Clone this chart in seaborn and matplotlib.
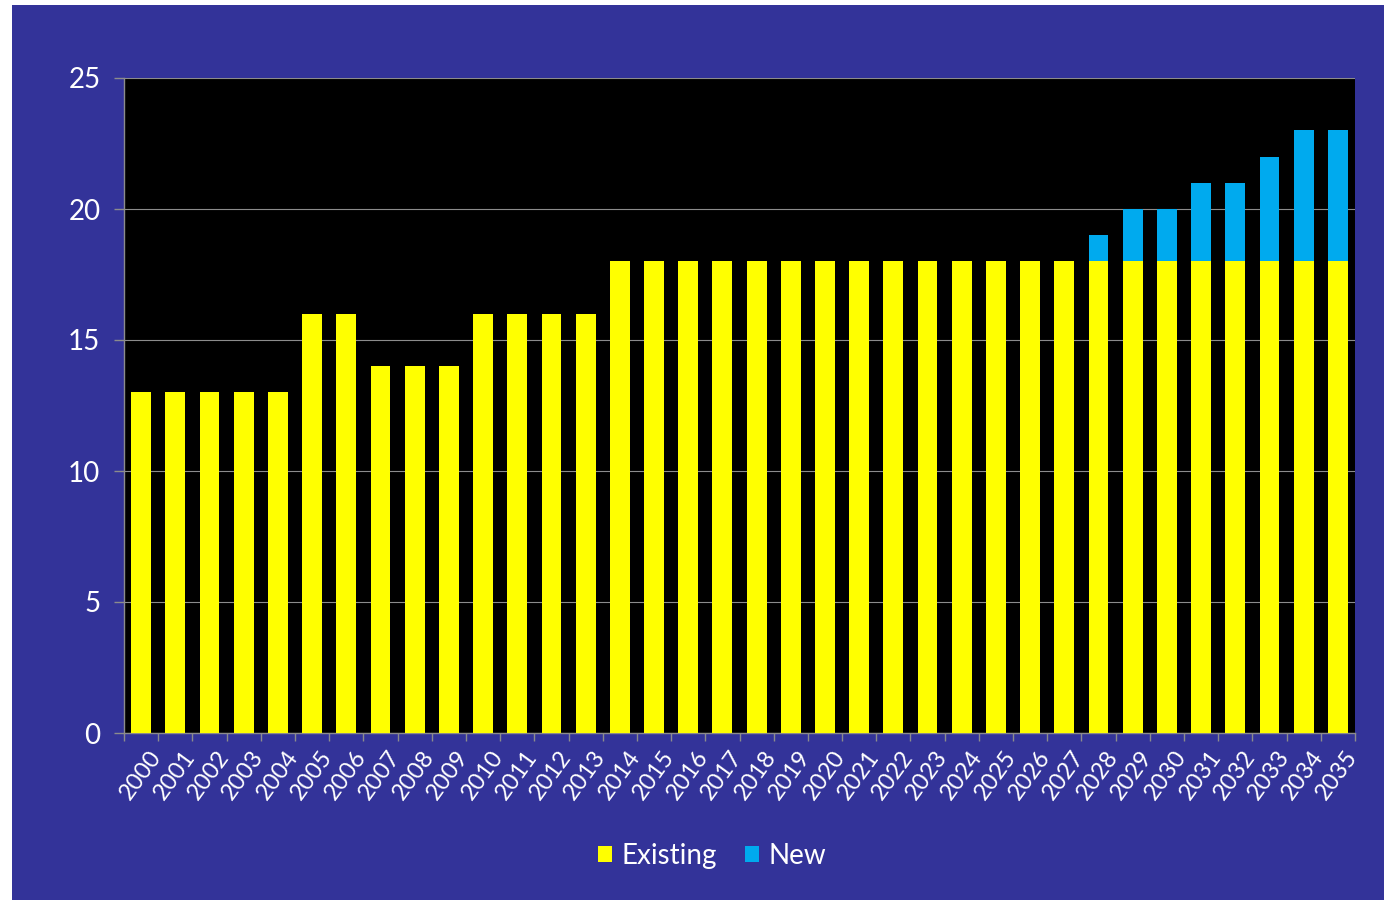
import matplotlib
matplotlib.use("Agg")
import matplotlib.pyplot as plt
import seaborn as sns
import pandas as pd
import numpy as np
from matplotlib.patches import Rectangle, Patch

years = [str(y) for y in range(2000, 2036)]
existing = [13, 13, 13, 13, 13, 16, 16, 14, 14, 14, 16, 16, 16, 16,
            18, 18, 18, 18, 18, 18, 18, 18, 18, 18, 18, 18, 18, 18,
            18, 18, 18, 18, 18, 18, 18, 18]
new = [0, 0, 0, 0, 0, 0, 0, 0, 0, 0, 0, 0, 0, 0,
       0, 0, 0, 0, 0, 0, 0, 0, 0, 0, 0, 0, 0, 0,
       1, 2, 2, 3, 3, 4, 5, 5]

df = pd.DataFrame({"year": years, "Existing": existing, "New": new})
df["Total"] = df["Existing"] + df["New"]

BG = "#333399"
YEL = "#FFFF00"
BLU = "#00AAEE"
GRID = "#8C8C8C"

sns.set_theme(style="white")
plt.rcParams["font.family"] = ["Lato", "DejaVu Sans"]

fig = plt.figure(figsize=(13.84, 9.0), dpi=100)
fig.patch.set_facecolor("white")
fig.patches.append(Rectangle((12 / 1384, 0), 1 - 12 / 1384, 1 - 5 / 900,
                             transform=fig.transFigure, facecolor=BG,
                             edgecolor="none", zorder=-10))

ax = fig.add_axes([124 / 1384, 1 - 733 / 900, (1355 - 124) / 1384, (733 - 78) / 900])
ax.set_facecolor("black")

sns.barplot(data=df, x="year", y="Total", color=BLU, width=0.58,
            saturation=1, ax=ax, zorder=3, linewidth=0)
sns.barplot(data=df, x="year", y="Existing", color=YEL, width=0.58,
            saturation=1, ax=ax, zorder=4, linewidth=0)

ax.set_ylim(0, 25)
ax.set_xlim(-0.5, len(years) - 0.5)
ax.set_yticks([0, 5, 10, 15, 20, 25])
ax.yaxis.grid(True, color=GRID, linewidth=0.8, zorder=0)
ax.set_axisbelow(True)
ax.set_xlabel("")
ax.set_ylabel("")

for s in ["top", "right"]:
    ax.spines[s].set_visible(False)
for s in ["left", "bottom"]:
    ax.spines[s].set_visible(True)
    ax.spines[s].set_color(GRID)
    ax.spines[s].set_linewidth(1.0)

ax.tick_params(axis="y", colors=GRID, labelcolor="white", labelsize=20,
               length=7, width=1, direction="out", left=True, pad=10)
ax.tick_params(axis="x", which="major", length=0, labelcolor="white",
               labelsize=17, pad=10)
ax.set_xticks(np.arange(-0.5, len(years), 1.0), minor=True)
ax.tick_params(axis="x", which="minor", length=6, width=1, color=GRID,
               direction="out", bottom=True)
for lab in ax.get_xticklabels():
    lab.set_rotation(54)
    lab.set_ha("right")
    lab.set_rotation_mode("anchor")
    lab.set_transform(lab.get_transform() + matplotlib.transforms.ScaledTranslation(7 / 100, 0, fig.dpi_scale_trans))

handles = [Patch(facecolor=YEL, edgecolor="none", label="Existing"),
           Patch(facecolor=BLU, edgecolor="none", label="New")]
leg = fig.legend(handles=handles, loc="center", bbox_to_anchor=(712 / 1384, 1 - 856 / 900),
                 ncol=2, frameon=False, fontsize=20, handlelength=0.5,
                 handleheight=0.5, handletextpad=0.35, columnspacing=1.0)
for t in leg.get_texts():
    t.set_color("white")

fig.savefig("out.png", dpi=100, facecolor=fig.get_facecolor())
